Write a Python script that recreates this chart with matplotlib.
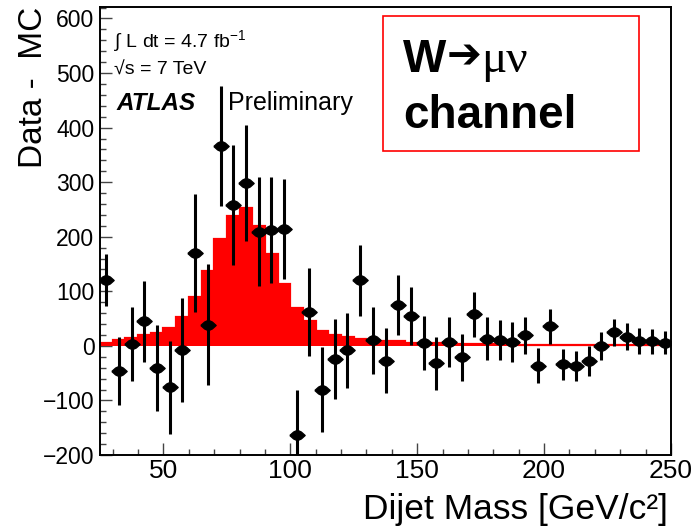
import numpy as np
import matplotlib
matplotlib.use('Agg')
import matplotlib.pyplot as plt
from matplotlib.ticker import MultipleLocator

plt.rcParams['font.family'] = ['Liberation Sans', 'DejaVu Sans']
plt.rcParams['mathtext.fontset'] = 'custom'
plt.rcParams['mathtext.rm'] = 'Liberation Sans'
plt.rcParams['mathtext.it'] = 'Liberation Sans:italic'
plt.rcParams['mathtext.bf'] = 'Liberation Sans:bold'

# dijet mass bins, 5 GeV wide
bin_edges = np.arange(25, 255, 5)
bin_centers = bin_edges[:-1] + 2.5

# W -> mu nu MC expectation (red histogram)
mc_signal = [6, 11, 15, 19, 24, 33, 53, 90, 137, 195, 238, 253, 219, 169, 114,
             70, 45, 28, 19, 16, 13, 10, 9, 8, 6, 5, 5, 4, 4, 3,
             3, 3, 3, 2, 2, 2, 2, 2, 1, 1, 1, 1, 1, 1, 1]

# data minus background MC, with errors
data_minus_mc = [121, -46, 3, 45, -40, -76, -8, 170, 39, 366, 259, 299, 209, 212, 214,
                 -164, 62, -80, -24, -8, 120, 10, -27, 74, 55, 5, -32, 7, -21, 58,
                 13, 11, 7, 19, -36, 36, -34, -37, -28, 0, 25, 17, 9, 8, 6]
data_err = [48, 62, 68, 74, 79, 85, 95, 108, 111, 110, 110, 106, 100, 97, 92,
            84, 81, 78, 73, 69, 65, 62, 59, 55, 53, 50, 48, 45, 43, 41,
            39, 37, 36, 33, 32, 32, 29, 28, 27, 25, 25, 24, 24, 22, 21]

fig = plt.figure(figsize=(6.99, 5.27), dpi=100)
ax = fig.add_axes([100/699, 72/527, 571/699, 448/527])

# red MC histogram
ax.stairs(mc_signal, bin_edges, fill=True, color='#ff0000', zorder=2)
ax.stairs(mc_signal, bin_edges, fill=False, color='#ff0000', linewidth=1.6, zorder=2)

# data points (wide diamond markers)
diamond = [(-1, 0), (-0.5, 0.45), (0, 0.68), (0.5, 0.45), (1, 0), (0.5, -0.45), (0, -0.68), (-0.5, -0.45), (-1, 0)]
ax.errorbar(bin_centers, data_minus_mc, yerr=data_err, fmt='none', ecolor='black',
            elinewidth=2.2, capsize=0, zorder=3)
ax.plot(bin_centers, data_minus_mc, linestyle='none', marker=diamond, markersize=11,
        color='black', zorder=4)

ax.set_xlim(25, 250)
ax.set_ylim(-200, 621)

ax.xaxis.set_major_locator(MultipleLocator(50))
ax.xaxis.set_minor_locator(MultipleLocator(10))
ax.yaxis.set_major_locator(MultipleLocator(100))
ax.yaxis.set_minor_locator(MultipleLocator(20))
ax.tick_params(which='both', direction='in', top=False, right=False, color='#444444')
ax.tick_params(which='major', length=8.5, width=1.0)
ax.tick_params(which='minor', length=4.5, width=1.0)
ax.tick_params(axis='x', which='major', labelsize=19, pad=3)
ax.tick_params(axis='y', which='major', labelsize=16.5, pad=4)
for s in ax.spines.values():
    s.set_linewidth(1.4)

# axis titles
fig.text(668/699, 8/527, 'Dijet Mass [GeV/c\u00b2]', fontsize=25.5,
         ha='right', va='baseline')
fig.text(42/699, 520/527, 'Data -  MC', fontsize=24, rotation=90,
         rotation_mode='anchor', ha='right', va='baseline')

# ATLAS labels
fig.text(114/699, 1 - 47/527, '\u222b L dt = 4.7 fb$^{-1}$', fontsize=14, va='baseline')
fig.text(114/699, 1 - 75/527, '\u221as = 7 TeV', fontsize=14, va='baseline')
fig.text(116/699, 1 - 110/527, 'ATLAS', fontsize=17.5, fontweight='bold',
         fontstyle='italic', va='baseline')
fig.text(228/699, 1 - 110/527, 'Preliminary', fontsize=18, va='baseline')

# channel box
box = plt.Rectangle((383/699, 1 - 151/527), 256/699, 135/527, transform=fig.transFigure,
                    fill=False, edgecolor='#ff0000', linewidth=1.2, zorder=5)
fig.patches.append(box)
t1 = fig.text(403/699, 1 - 72/527, 'W', fontsize=33, fontweight='bold', va='baseline')
fig.canvas.draw()
x1 = t1.get_window_extent().x1
t2 = fig.text(x1 / 699, 1 - 68/527, '\u2794', fontsize=30, family='DejaVu Sans',
              fontweight='bold', va='baseline')
fig.canvas.draw()
x2 = t2.get_window_extent().x1
fig.text(x2 / 699, 1 - 72/527, '\u03bc\u03bd', fontsize=34, family='Liberation Serif',
         va='baseline')
fig.text(403/699, 1 - 128/527, 'channel', fontsize=33, fontweight='bold', va='baseline')

fig.savefig('out.png', dpi=100)
